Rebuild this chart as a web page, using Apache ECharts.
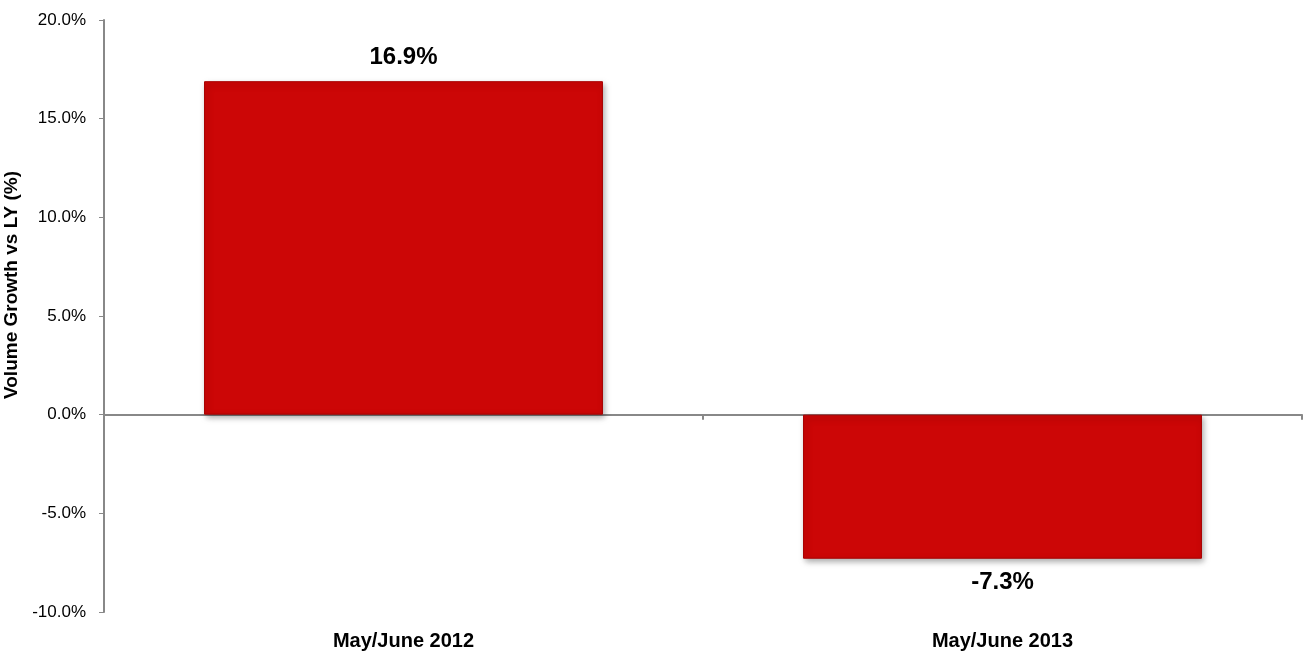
<!DOCTYPE html>
<html>
<head>
<meta charset="utf-8">
<title>Volume Growth vs LY</title>
<script src="https://cdn.jsdelivr.net/npm/echarts@6/dist/echarts.min.js"></script>
<style>
	html,body{margin:0;padding:0;background:#fff;}
	#chart1{width:1303px;height:656px;}
</style>
</head>
<body>
<div id="chart1"></div>
<script>
var categories = ['May/June 2012', 'May/June 2013'];
var growth = [16.9, -7.3];
var yTicks = {min: -10, max: 20, step: 5};

var axisGrey = '#888888';

var chart1 = echarts.init(document.getElementById('chart1'));
var option1 = {
	animation: false,
	grid: {
		left: 104,
		right: 1,
		top: 20,
		bottom: 44,
		containLabel: false,
		outerBoundsMode: 'none'
	},
	/******坐标轴*******/
	xAxis: [{
		type: 'category',
		data: categories,
		position: 'bottom',
		axisLine: {onZero: true, lineStyle: {color: axisGrey, width: 2}},
		axisTick: {show: true, length: 5, lineStyle: {color: axisGrey, width: 2}},
		axisLabel: {show: false}
	}, {
		type: 'category',
		data: categories,
		position: 'bottom',
		axisLine: {show: false, onZero: false},
		axisTick: {show: false},
		axisLabel: {
			margin: 19,
			color: '#000',
			fontFamily: 'Liberation Sans, Arial, sans-serif',
			fontWeight: 'bold',
			fontSize: 20
		}
	}],
	yAxis: {
		type: 'value',
		min: yTicks.min,
		max: yTicks.max,
		interval: yTicks.step,
		name: 'Volume Growth vs LY (%)',
		nameLocation: 'middle',
		nameGap: 75,
		nameTextStyle: {
			color: '#000',
			fontFamily: 'Liberation Sans, Arial, sans-serif',
			fontWeight: 'bold',
			fontSize: 19,
			padding: [0, 0, 0, 62]
		},
		axisLine: {show: true, lineStyle: {color: axisGrey, width: 2}},
		axisTick: {show: true, length: 5, lineStyle: {color: axisGrey, width: 1}},
		splitLine: {show: false},
		axisLabel: {
			margin: 18,
			color: '#000',
			fontFamily: 'Liberation Sans, Arial, sans-serif',
			fontSize: 17,
			formatter: function (v) { return v.toFixed(1) + '%'; }
		}
	},
	//表内数据
	series: [{
		type: 'bar',
		xAxisIndex: 0,
		barCategoryGap: '33.4%',
		data: growth.map(function (v) {
			return {value: v, label: {position: v < 0 ? 'bottom' : 'top'}};
		}),
		itemStyle: {
			color: '#cc0606',
			borderColor: '#a80000',
			borderWidth: 1,
			shadowColor: 'rgba(0,0,0,0.35)',
			shadowBlur: 6,
			shadowOffsetX: 2,
			shadowOffsetY: 3
		},
		label: {
			show: true,
			distance: 12,
			color: '#000',
			fontFamily: 'Liberation Sans, Arial, sans-serif',
			fontWeight: 'bold',
			fontSize: 24,
			formatter: function (p) { return p.value.toFixed(1) + '%'; }
		}
	}]
};
chart1.setOption(option1);//输出图表
</script>
</body>
</html>
